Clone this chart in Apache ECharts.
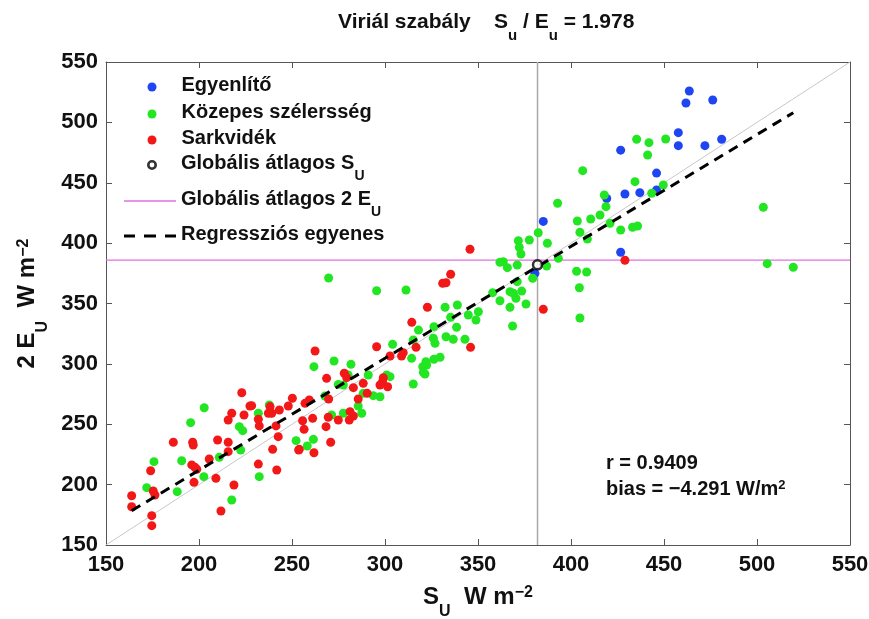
<!DOCTYPE html>
<html>
<head>
<meta charset="utf-8">
<script src="https://cdn.jsdelivr.net/npm/echarts@6/dist/echarts.min.js"></script>
<style>
html,body{margin:0;padding:0;background:#fff;}
#chart{width:869px;height:619px;}
</style>
</head>
<body>
<div id="chart"></div>
<script>
// ---- data ----
const xTicks = [150, 550, 50];   // min, max, interval
const yTicks = [150, 550, 50];

const blueEq = [
[463.6,526],[461.8,516],[476.2,518.5],[457.7,491.5],[457.7,480.7],[472,480.7],[481,486],
[426.7,477],[446,458],[429,440.7],[437,441.8],[446,444],[419.2,437],[385.1,418],[426.7,392.4],[380.6,375]
];

const greenMid = [
[435.3,486],[441.9,483.2],[450.9,486.2],[441.2,473],[406.3,460],[434.4,450.9],[449.6,448.1],[443.4,441.3],
[417.9,439.9],[418.8,430.2],[392.8,433],[415.6,423.3],[410.6,420],[403.4,418.3],[421,416.4],[404.8,409],
[426.7,410.9],[433.1,413.1],[435.8,414.2],[408.8,403.4],[382.4,408.6],[393.2,387.4],[403,376.7],[408.4,376.1],
[404.5,363],[404.8,338],[503.4,429.7],[505.5,383],[519.5,380],
[371.7,402],[377.6,402.6],[387.3,399.9],[372.2,396.5],[373.1,391],[363.6,384.6],[361.8,384.1],[365.8,379.7],
[371.1,381.9],[386.9,381.1],[379.4,370.9],[371.1,368.1],[367.2,359.8],[369,358.5],[373.5,360.3],[370.4,354.3],
[361.8,352.3],[367.2,346.8],[375.8,349.6],[368.6,331.4],[357.9,359],
[332.3,346.9],[338.9,348.8],[350.2,343.2],[348.9,336.3],[344.8,340.5],[335.3,338.6],[338.5,330.3],[326.3,330.8],
[318,328],[326,321.2],[326.9,317],[332.8,322.5],[336.7,320.4],[343,320.4],[315.2,319.8],[329.6,305.5],
[326.3,303.8],[322,301.8],[320.3,297.7],[321.5,291.6],[315.2,283.3],[314.3,304.6],
[295.5,360.6],[311.3,361.2],[269.7,371.1],[304.1,316.2],[322.4,299.1],[320.6,293],
[261.8,297.7],[272.6,302.4],[281.7,299.6],[291,290.8],[302.7,289.4],[300.9,290.8],[274.9,283],[277.6,282.5],
[288.3,275.6],[285.6,265.1],[293.7,273.7],[297.3,272.8],[267.7,273.4],[237.8,266],[231.9,259.1],[271.3,257.7],
[277.6,259.1],[287.5,259.1],[280.2,290.8],[252.2,236.4],[258.2,232],[261.5,237.5],
[202.8,263.7],[195.5,251.3],[221.7,248],[223.5,244.7],[222.4,228.7],[210.9,222.6],[190.7,219.8],[175.8,219],
[232.4,206.6],[202.6,206.6],[171.9,197.5],[188.3,194.2],[217.6,187.3]
];

const redPolar = [
[345.7,394.9],[335.3,374.2],[331,366.7],[332.8,367.2],[322.8,346.9],[314.4,334.4],[316.7,313.7],[346,313.7],
[385.1,345.2],[429,385.8],
[295.5,314.2],[302.7,306.5],[308.9,306.5],[309.8,309.3],[262.4,310.7],
[278.1,292.2],[279.4,288.6],[268.6,288],
[299.1,288.6],[298.7,285.3],[301.4,281.1],[297.3,282.5],
[283,280.3],[288.3,283.9],[285.6,270.9],[290.4,275.6],
[269.7,270.9],[259.3,270.1],[257,267.3],[250.2,271.5],[248,265.1],[243.2,261.8],[238.2,264.6],[237.3,259.1],
[228.3,265.4],[239.1,259.1],
[261.1,254.9],[269.5,255.8],[281.2,260.4],[283,256.8],[255.7,252.9],[274.9,253.5],[280.8,253.5],
[256.5,245.8],[268.3,248],[270.8,235.1],[261.8,226.4],[253.9,229.2],
[223,276.1],[227.4,265.1],[217.6,259.1],[215.7,253.5],[224.2,257.7],
[231.9,254.1],[232.4,248.6],[241.4,248.6],[242.6,239.7],[239.6,229.2],[241.8,212.1],[253.6,228.7],
[186.2,235.1],[196.6,235.1],[196.9,232.8],[210,237],[215.7,235.1],[215.7,227.3],
[205.5,221.2],[196.1,216.3],[197.8,214.4],[198.8,212.7],[174,211.5],[231.9,217],
[209.1,205.2],[197.3,201.9],[175.4,194.7],[176.3,191.4],[163.8,190.8],[163.8,181.7],[218.8,199.7],
[211.8,178.2],[174.6,174.3],[174.6,166]
];

const globalMeanS = [[382, 382]];
const meanSLine = [[382, 150], [382, 550]];
const mean2ELine = [[150, 386], [550, 386]];
const regressionLine = [[163.8, 178.4], [519.5, 508]];
const identityLine = [[150, 150], [550, 550]];

const names = ['Egyenlítő', 'Közepes szélersség', 'Sarkvidék', 'Globális átlagos SU', 'Globális átlagos 2 EU', 'Regressziós egyenes'];

// ---- chart ----
const FONT = '"Liberation Sans", Arial, sans-serif';
const C = '#111';
const rich = {
  m: {fontFamily: FONT, fontSize: 20, fontWeight: 'bold', color: C, lineHeight: 24, verticalAlign: 'top'},
  s: {fontFamily: FONT, fontSize: 14, fontWeight: 'bold', color: C, lineHeight: 14, padding: [16, 0, 0, 0], verticalAlign: 'top'}
};
const legendLabels = {
  'Egyenlítő': '{m|Egyenlítő}',
  'Közepes szélersség': '{m|Közepes szélersség}',
  'Sarkvidék': '{m|Sarkvidék}',
  'Globális átlagos SU': '{m|Globális átlagos S}{s|U}',
  'Globális átlagos 2 EU': '{m|Globális átlagos 2 E}{s|U}',
  'Regressziós egyenes': '{m|Regressziós egyenes}'
};
const dashIcon = 'path://M0,0h11v3h-11z M20,0h12v3h-12z M41,0h11v3h-11z';
const ringIcon = 'path://M5,0A5,5 0 1,1 5,10A5,5 0 1,1 5,0Z M5,2.6A2.4,2.4 0 1,0 5,7.4A2.4,2.4 0 1,0 5,2.6Z';
const legendCfg = [
  {left: 147.5, top: 75, w: 9, h: 9, pad: 20},
  {left: 147.5, top: 102, w: 9, h: 9, pad: 20},
  {left: 147.5, top: 128, w: 9, h: 9, pad: 20},
  {left: 147, top: 153, w: 10, h: 10, pad: 19, icon: ringIcon, itemStyle: {color: '#000', borderWidth: 0}},
  {left: 124, top: 189, w: 52, h: 1.5, pad: 0, icon: 'rect'},
  {left: 124, top: 224, w: 52, h: 3, pad: 0, icon: dashIcon}
];
const legends = names.map((n, i) => {
  const c = legendCfg[i];
  const item = {name: n};
  if (c.icon) item.icon = c.icon;
  if (c.itemStyle) item.itemStyle = c.itemStyle;
  return {
    data: [item],
    left: c.left,
    top: c.top,
    orient: 'vertical',
    padding: 0,
    itemWidth: c.w,
    itemHeight: c.h,
    selectedMode: false,
    textStyle: {rich: rich, padding: [0, 0, 0, c.pad]},
    formatter: (name) => legendLabels[name]
  };
});

const nameRich = {
  m: {fontFamily: FONT, fontSize: 24, fontWeight: 'bold', color: C, lineHeight: 28, verticalAlign: 'top'},
  s: {fontFamily: FONT, fontSize: 16, fontWeight: 'bold', color: C, lineHeight: 16, padding: [19, 0, 0, 0], verticalAlign: 'top'},
  p: {fontFamily: FONT, fontSize: 16, fontWeight: 'bold', color: C, lineHeight: 16, verticalAlign: 'top'}
};

const chart = echarts.init(document.getElementById('chart'), null, {renderer: 'canvas'});
const axisCommon = {
  type: 'value',
  axisLine: {show: true, onZero: false, lineStyle: {color: '#555', width: 1}},
  axisTick: {show: true, inside: true, length: 6, lineStyle: {color: '#555'}},
  splitLine: {show: false}
};
const option = {
  animation: false,
  backgroundColor: '#fff',
  title: {
    text: '{m|Viriál szabály    S}{s|u}{m| / E}{s|u}{m| = 1.978}',
    left: 333, top: 7,
    textStyle: {rich: {
      m: {fontFamily: FONT, fontSize: 21, fontWeight: 'bold', color: C, lineHeight: 24, verticalAlign: 'top'},
      s: {fontFamily: FONT, fontSize: 15, fontWeight: 'bold', color: C, lineHeight: 15, padding: [16, 0, 0, 0], verticalAlign: 'top'}
    }}
  },
  legend: legends,
  grid: {left: 106, right: 19, top: 62, bottom: 74, containLabel: false, outerBoundsMode: 'none'},
  xAxis: [
    Object.assign({}, axisCommon, {
      min: xTicks[0], max: xTicks[1], interval: xTicks[2], position: 'bottom',
      axisLabel: {margin: 9, fontFamily: FONT, fontSize: 22, fontWeight: 'bold', color: C},
      name: '{m|S}{s|U}{m|  W m}{p|−2}',
      nameLocation: 'middle', nameGap: 40,
      nameTextStyle: {rich: nameRich}
    }),
    Object.assign({}, axisCommon, {
      min: xTicks[0], max: xTicks[1], interval: xTicks[2], position: 'top',
      axisLabel: {show: false}
    })
  ],
  yAxis: [
    Object.assign({}, axisCommon, {
      min: yTicks[0], max: yTicks[1], interval: yTicks[2], position: 'left',
      axisLabel: {margin: 8, fontFamily: FONT, fontSize: 22, fontWeight: 'bold', color: C},
      name: '{m|2 E}{s|U}{m|  W m}{p|−2}',
      nameLocation: 'middle', nameGap: 62, nameRotate: 90,
      nameTextStyle: {rich: nameRich}
    }),
    Object.assign({}, axisCommon, {
      min: yTicks[0], max: yTicks[1], interval: yTicks[2], position: 'right',
      axisLabel: {show: false}
    })
  ],
  graphic: [
    {type: 'text', left: 606, top: 453, style: {text: 'r = 0.9409', font: 'bold 20px ' + FONT, fill: C}},
    {type: 'text', left: 606, top: 479, style: {
      text: '{m|bias = −4.291 W/m}{p|2}',
      rich: {
        m: {fontFamily: FONT, fontSize: 20, fontWeight: 'bold', fill: C, lineHeight: 24, verticalAlign: 'top'},
        p: {fontFamily: FONT, fontSize: 13, fontWeight: 'bold', fill: C, lineHeight: 13, verticalAlign: 'top'}
      }
    }}
  ],
  series: [
    {type: 'line', data: identityLine, symbol: 'none', silent: true, lineStyle: {color: '#c8c8c8', width: 1}, z: 1},
    {type: 'line', data: meanSLine, symbol: 'none', silent: true, lineStyle: {color: '#a8a8a8', width: 1.5}, z: 1},
    {type: 'line', name: names[4], data: mean2ELine, symbol: 'none', silent: true, itemStyle: {color: '#e070e0'}, lineStyle: {color: '#e070e0', width: 1.2}, z: 1},
    {type: 'scatter', name: names[0], data: blueEq, symbol: 'circle', symbolSize: 9, itemStyle: {color: '#1f45f2', opacity: 1}, z: 2},
    {type: 'scatter', name: names[1], data: greenMid, symbol: 'circle', symbolSize: 9, itemStyle: {color: '#22e622', opacity: 1}, z: 2},
    {type: 'scatter', name: names[2], data: redPolar, symbol: 'circle', symbolSize: 9, itemStyle: {color: '#f21818', opacity: 1}, z: 2},
    {type: 'line', name: names[5], data: regressionLine, symbol: 'none', silent: true, itemStyle: {color: '#000'}, lineStyle: {color: '#000', width: 3, type: [10, 7]}, z: 3},
    {type: 'scatter', name: names[3], data: globalMeanS, symbol: 'circle', symbolSize: 9, itemStyle: {color: '#fff', borderColor: '#000', borderWidth: 2.5}, z: 4}
  ]
};
chart.setOption(option);
</script>
</body>
</html>
